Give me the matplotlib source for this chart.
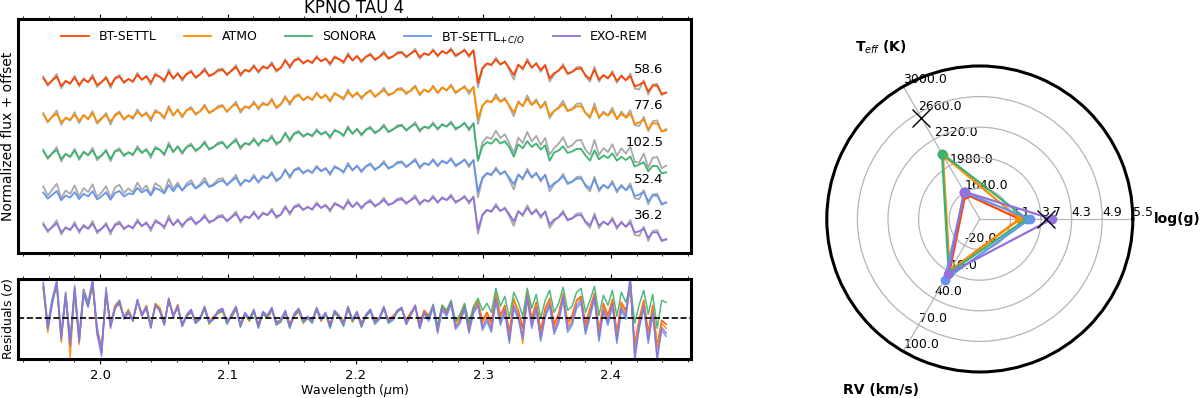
import numpy as np
import matplotlib
matplotlib.use("Agg")
import matplotlib.pyplot as plt
from matplotlib.ticker import MultipleLocator

# ---------------- data ----------------
WL_START, WL_END, N_PIX = 1.9556, 2.4432, 140

MODELS = ["BT-SETTL", "ATMO", "SONORA", r"BT-SETTL$_{+C/O}$", "EXO-REM"]
COLORS = ["#FF4500", "#FF8C00", "#3CB371", "#6495ED", "#9370DB"]
CHI2 = ["58.6", "77.6", "102.5", "52.4", "36.2"]

# observed spectrum (normalised flux x 1000)
OBS = [774, 702, 748, 794, 683, 742, 716, 781, 696, 761,
       729, 789, 693, 727, 775, 685, 765, 786, 722, 757,
       729, 803, 746, 781, 711, 798, 774, 730, 830, 754,
       803, 740, 796, 822, 759, 791, 840, 773, 792, 829,
       836, 782, 822, 862, 776, 827, 809, 864, 801, 856,
       835, 885, 810, 838, 906, 836, 902, 920, 871, 900,
       874, 933, 889, 916, 860, 930, 910, 876, 955, 894,
       936, 881, 929, 952, 897, 925, 969, 908, 926, 961,
       967, 919, 952, 987, 911, 953, 936, 985, 926, 973,
       950, 993, 926, 951, 984, 921, 979, 690, 830, 872,
       857, 920, 864, 893, 823, 750, 867, 825, 911, 838,
       881, 810, 865, 735, 788, 820, 870, 790, 808, 845,
       849, 773, 735, 849, 733, 787, 756, 816, 726, 786,
       744, 797, 681, 675, 745, 635, 712, 718, 631, 652]

MOD_BTSETTL = [761, 714, 744, 773, 701, 739, 722, 765, 710, 752,
               731, 771, 708, 732, 763, 705, 758, 773, 731, 754,
               738, 787, 751, 774, 729, 786, 771, 744, 809, 760,
               795, 755, 792, 810, 769, 791, 824, 781, 794, 819,
               825, 791, 819, 846, 791, 825, 815, 852, 812, 849,
               837, 870, 822, 841, 897, 852, 896, 909, 878, 898,
               881, 921, 892, 910, 875, 921, 908, 887, 939, 900,
               929, 893, 926, 941, 906, 925, 954, 915, 928, 952,
               958, 927, 949, 972, 923, 951, 941, 973, 935, 967,
               952, 981, 937, 954, 976, 936, 974, 725, 840, 875,
               865, 905, 868, 887, 839, 785, 864, 837, 893, 844,
               872, 825, 861, 760, 799, 820, 852, 799, 810, 833,
               836, 784, 755, 828, 751, 784, 762, 800, 740, 777,
               746, 777, 698, 711, 733, 658, 704, 703, 641, 649]

MOD_ATMO = [765, 709, 748, 768, 705, 735, 726, 760, 713, 756,
            727, 775, 704, 736, 759, 709, 754, 776, 727, 758,
            742, 783, 755, 770, 733, 782, 775, 740, 813, 756,
            799, 751, 796, 806, 773, 787, 828, 777, 798, 815,
            829, 787, 823, 842, 795, 821, 819, 848, 816, 845,
            833, 874, 818, 845, 893, 856, 892, 913, 874, 902,
            877, 925, 888, 914, 871, 925, 904, 891, 935, 904,
            925, 897, 922, 945, 902, 929, 950, 919, 924, 956,
            954, 931, 945, 976, 919, 955, 937, 977, 931, 971,
            948, 985, 933, 958, 972, 940, 970, 735, 832, 867,
            857, 897, 860, 879, 831, 780, 856, 829, 885, 836,
            864, 817, 853, 755, 791, 812, 844, 791, 802, 825,
            828, 776, 748, 820, 743, 776, 754, 792, 732, 769,
            738, 769, 690, 703, 725, 650, 696, 695, 633, 641]

MOD_SONORA = [763, 712, 746, 771, 703, 741, 720, 767, 708, 754,
              733, 769, 710, 730, 765, 703, 760, 771, 733, 752,
              740, 785, 753, 772, 731, 784, 773, 742, 811, 758,
              797, 753, 794, 808, 771, 789, 826, 779, 796, 817,
              827, 789, 821, 844, 793, 823, 817, 850, 814, 847,
              839, 868, 824, 839, 899, 850, 898, 907, 880, 896,
              883, 919, 894, 908, 877, 919, 910, 885, 941, 898,
              931, 891, 928, 939, 908, 923, 956, 913, 930, 950,
              960, 925, 951, 970, 925, 949, 943, 971, 937, 965,
              954, 979, 939, 952, 978, 934, 976, 690, 800, 832,
              820, 860, 822, 840, 793, 720, 815, 785, 840, 795,
              822, 775, 808, 690, 752, 768, 800, 750, 760, 780,
              780, 730, 690, 770, 700, 730, 710, 745, 690, 720,
              695, 722, 645, 660, 678, 608, 650, 648, 592, 600]

MOD_BTSETTL_CO = [726, 679, 709, 738, 666, 704, 687, 730, 675, 717,
                  696, 736, 673, 697, 728, 670, 723, 738, 696, 719,
                  713, 762, 726, 749, 704, 761, 746, 719, 784, 735,
                  783, 743, 780, 798, 757, 779, 812, 769, 782, 807,
                  820, 786, 814, 841, 786, 820, 810, 847, 807, 844,
                  837, 870, 822, 841, 897, 852, 896, 909, 878, 898,
                  881, 921, 892, 910, 875, 921, 908, 887, 939, 900,
                  929, 893, 926, 941, 906, 925, 954, 915, 928, 952,
                  958, 927, 949, 972, 923, 951, 941, 973, 935, 967,
                  952, 981, 937, 954, 976, 936, 974, 730, 842, 877,
                  866, 904, 869, 886, 840, 790, 863, 838, 892, 845,
                  871, 826, 860, 765, 798, 819, 851, 800, 809, 832,
                  835, 785, 757, 827, 750, 783, 763, 799, 741, 776,
                  745, 776, 699, 710, 732, 657, 703, 702, 640, 648]

MOD_EXOREM = [758, 716, 741, 771, 703, 736, 724, 762, 712, 749,
              729, 768, 710, 730, 760, 707, 755, 770, 733, 751,
              736, 784, 752, 771, 731, 783, 769, 746, 806, 758,
              793, 757, 790, 807, 771, 789, 821, 783, 792, 816,
              822, 793, 816, 843, 793, 822, 814, 849, 811, 846,
              834, 867, 824, 838, 893, 853, 893, 906, 877, 895,
              879, 918, 890, 907, 876, 918, 906, 888, 935, 898,
              926, 894, 923, 938, 907, 922, 950, 915, 925, 949,
              955, 928, 947, 969, 924, 949, 940, 970, 935, 964,
              950, 978, 937, 952, 973, 937, 971, 722, 838, 874,
              864, 903, 867, 885, 840, 786, 862, 838, 890, 843,
              870, 827, 859, 762, 800, 818, 850, 801, 809, 831,
              834, 785, 757, 825, 753, 782, 763, 798, 742, 775,
              745, 775, 700, 710, 731, 659, 702, 701, 641, 646]

# residuals (sigma)
RES_BTSETTL = [3.0, -0.8, 1.8, 3.2, -1.6, 2.4, -2.2, 2.6, -2.0, 2.8, 1.4, 3.2, -1.0, -3.0, 2.3,
               -0.6, 1.2, 1.4, 0.2, 0.8, -0.1, 1.6, 0.5, 0.9, -0.6, 1.2, 1.0, -0.4, 1.7, 0.4, 1.0,
               -0.5, 0.2, 0.6, -0.2, 0.0, 0.9, -0.4, 0.2, 0.5,
               0.7, -0.2, 0.1, 0.9, -0.5, 0.3, -0.2, 0.6, -0.5, 0.4,
               0.0, 0.8, -0.3, -0.3, 0.5, -0.5, 0.2, 0.7, -0.4, 0.0,
               -0.1, 0.8, -0.2, 0.4, -0.5, 0.5, 0.1, -0.3, 0.9, -0.3,
               0.5, -0.4, 0.2, 0.7, -0.2, 0.0, 0.9, -0.1, 0.2, 0.7,
               0.9, -0.2, 0.6, 1.1, -0.5, 0.8,
               0.3, 1.1, -0.8, 1.3, 0.7, 1.4, -0.4, 0.2, 1.3, -0.7, 1.0, 1.6,
               -0.2, 0.6, -0.4, 2.4, 0.3, 1.3, -1.4, 1.8, 0.8, -1.0, 2.5,
               0.0, 1.6, -1.2, 1.0, 2.0, -0.6, 0.5, 2.4, -0.4, 0.3, 1.8,
               2.2, -0.6, 1.0, 2.5, -1.2, 1.5, 0.3, 1.9, -1.4, 1.6,
               0.8, 3.0, -2.6, 0.0, 1.8, -1.4, 1.3, -2.8, -0.2, -0.6]

RES_ATMO = [3.2, -1.4, 1.7, 3.3, -2.4, 2.6, -3.9, 2.8, -2.6, 2.9, 1.6, 3.4, -1.7, -3.2, 2.5,
            -0.8, 1.3, 1.8, 0.1, 0.9, -0.3, 1.8, 0.4, 1.3, -0.8, 1.5, 1.1, -0.6, 2.0, 0.3, 1.4,
            -0.8, 0.3, 0.8, -0.5, 0.0, 1.1, -0.6, 0.1, 0.6,
            0.9, -0.5, 0.2, 1.1, -0.8, 0.4, -0.3, 0.8, -0.9, 0.5,
            0.1, 1.0, -0.6, -0.4, 0.7, -0.9, 0.3, 0.9, -0.5, 0.1,
            -0.2, 1.0, -0.3, 0.5, -0.9, 0.7, 0.2, -0.5, 1.1, -0.4,
            0.6, -0.6, 0.3, 0.9, -0.5, 0.0, 1.1, -0.4, 0.1, 0.8,
            1.0, -0.6, 0.5, 1.3, -1.0, 0.7,
            0.0, 1.3, -1.2, 1.2, 0.5, 1.7, -0.8, 0.0, 1.3, -1.2, 0.9, 1.8,
            -0.5, 0.4, -0.8, 2.6, 0.0, 1.1, -2.0, 2.0, 0.5, -2.5, 2.6,
            -0.4, 1.4, -1.8, 0.7, 1.9, -1.0, 0.2, 2.5, -0.8, 0.0, 1.7,
            2.0, -1.0, 0.8, 2.4, -1.6, 1.3, -0.1, 1.8, -1.8, 1.5,
            0.5, 3.2, -3.0, -0.3, 1.7, -1.8, 1.2, -3.0, -0.5, -1.0]

RES_SONORA = [3.1, -1.0, 1.6, 3.4, -1.9, 2.2, -2.5, 2.9, -2.2, 2.5, 1.2, 3.5, -1.2, -3.4, 2.6,
              -0.8, 1.0, 1.6, 0.0, 0.6, -0.2, 1.7, 0.3, 1.0, -0.9, 1.3, 0.8, -0.6, 1.8, 0.2, 1.1,
              -0.8, 0.2, 0.7, -0.5, -0.1, 1.0, -0.5, -0.1, 0.6,
              0.8, -0.6, 0.2, 1.0, -0.9, 0.4, -0.2, 0.7, -1.0, 0.5,
              0.1, 0.9, -0.7, -0.3, 0.6, -1.0, 0.3, 0.8, -0.4, 0.0,
              -0.5, 0.9, -0.2, 0.4, -1.0, 0.6, 0.1, -0.8, 1.0, -0.3,
              0.5, -0.9, 0.2, 0.7, -0.6, -0.1, 1.0, -0.5, -0.2, 0.6,
              1.0, -0.6, 0.3, 1.2, -1.0, 0.5,
              0.2, 1.4, -0.8, 1.3, 0.8, 1.8, -0.3, 0.4, 1.5, -0.5, 1.2, 2.0,
              0.8, 1.5, 0.6, 3.0, 1.2, 2.2, 0.0, 2.6, 1.6, 0.2, 3.0,
              1.0, 2.4, 0.0, 1.8, 2.8, 0.6, 1.5, 3.1, 0.8, 1.2, 2.6,
              3.0, 0.6, 1.8, 3.2, 0.3, 2.3, 1.3, 2.8, 0.2, 2.6,
              1.6, 3.4, -0.5, 1.4, 2.8, 0.4, 2.4, -1.0, 1.8, 1.6]

RES_BTSETTL_CO = [3.6, -0.6, 2.0, 3.8, -1.5, 2.6, -2.2, 3.3, -1.8, 2.9, 1.6, 3.9, -0.9, -3.3, 3.1,
                  -0.7, 1.1, 1.8, 0.1, 0.7, -0.2, 1.8, 0.3, 1.2, -0.9, 1.3, 0.8, -0.6, 1.9, 0.2, 1.2,
                  -0.8, 0.3, 0.8, -0.5, 0.0, 1.1, -0.4, -0.1, 0.7,
                  0.9, -0.5, 0.3, 1.1, -0.8, 0.5, -0.1, 0.8, -0.9, 0.6,
                  0.2, 1.0, -0.6, -0.2, 0.7, -0.9, 0.4, 0.9, -0.3, 0.1,
                  -0.4, 1.0, -0.1, 0.5, -0.9, 0.7, 0.2, -0.7, 1.1, -0.2,
                  0.6, -0.8, 0.3, 0.8, -0.5, 0.0, 1.1, -0.4, -0.1, 0.7,
                  1.0, -0.6, 0.3, 1.2, -1.0, 0.5,
                  -0.3, 1.1, -1.5, 0.8, 0.2, 1.4, -1.1, -0.5, 0.9, -1.5, 0.5, 1.2,
                  -1.2, -0.3, -1.4, 1.7, -0.7, 0.6, -2.5, 1.0, -0.1, -2.1, 1.9,
                  -1.0, 0.8, -2.3, 0.1, 1.2, -1.6, -0.5, 1.9, -1.4, -0.7, 1.0,
                  1.5, -1.6, 0.1, 1.9, -2.3, 0.6, -0.7, 1.2, -2.5, 0.8,
                  -0.1, 3.6, -3.6, -1.0, 1.0, -2.5, 0.4, -3.8, -1.2, -1.8]

RES_EXOREM = [3.4, -1.1, 1.4, 3.6, -2.1, 2.1, -2.8, 3.0, -2.4, 2.4, 1.1, 3.7, -1.4, -3.8, 2.7,
              -1.0, 0.9, 1.7, -0.1, 0.5, -0.3, 1.9, 0.2, 1.1, -1.0, 1.4, 0.7, -0.7, 2.0, 0.1, 1.3,
              -0.7, 0.4, 0.9, -0.4, 0.1, 1.2, -0.3, 0.0, 0.8,
              1.0, -0.4, 0.4, 1.2, -0.7, 0.6, 0.0, 0.9, -0.8, 0.7,
              0.3, 1.1, -0.5, -0.1, 0.8, -0.8, 0.5, 1.0, -0.2, 0.2,
              -0.3, 1.1, 0.0, 0.6, -0.8, 0.8, 0.3, -0.6, 1.2, -0.1,
              0.7, -0.7, 0.4, 0.9, -0.4, 0.1, 1.2, -0.3, 0.0, 0.8,
              1.1, -0.5, 0.4, 1.3, -0.9, 0.6,
              -0.1, 1.3, -1.3, 1.0, 0.4, 1.6, -0.9, -0.3, 1.1, -1.3, 0.7, 1.4,
              -0.9, 0.0, -1.1, 2.0, -0.4, 0.9, -2.2, 1.3, 0.2, -1.8, 2.2,
              -0.7, 1.1, -2.0, 0.4, 1.5, -1.3, -0.2, 2.2, -1.1, -0.4, 1.3,
              1.8, -1.3, 0.4, 2.2, -2.0, 0.9, -0.4, 1.5, -2.2, 1.1,
              0.2, 4.5, -4.3, -0.7, 1.3, -2.2, 0.7, -4.2, -0.9, -1.5]

# radar chart data
TEFF_TICKS = [1640.0, 1980.0, 2320.0, 2660.0, 3000.0]
LOGG_TICKS = [3.1, 3.7, 4.3, 4.9, 5.5]
RV_TICKS = [-20.0, 10.0, 40.0, 70.0, 100.0]
TEFF = [1620, 2120, 2140, 1640, 1650]
LOGG = [3.28, 3.28, 3.42, 3.48, 3.92]
RV = [9, 9, 11, 19, 12]
LIT_TEFF = 2600
LIT_LOGG = 3.79

# ---------------- figure ----------------
plt.rcParams['font.family'] = ['DejaVu Sans']
fig = plt.figure(figsize=(12, 3.98), dpi=100)

wl = np.linspace(WL_START, WL_END, N_PIX)
obs = np.array(OBS) / 1000.0
models = [MOD_BTSETTL, MOD_ATMO, MOD_SONORA, MOD_BTSETTL_CO, MOD_EXOREM]
resids = [RES_BTSETTL, RES_ATMO, RES_SONORA, RES_BTSETTL_CO, RES_EXOREM]

ROW_STEP = 0.2815
SPINE_LW = 2.2
XLIM = (1.9358, 2.4626)

ax1 = fig.add_axes([0.015, 0.3643, 0.5608, 0.588])
for k, (name, col, mod) in enumerate(zip(MODELS, COLORS, models)):
    off = -k * ROW_STEP
    ax1.plot(wl, obs + off, color='darkgray', lw=1.3, zorder=2)
    ax1.plot(wl, np.array(mod) / 1000.0 + off, color=col, lw=1.3,
             label=name, zorder=3)
    ax1.text(2.4408, off + 0.83, CHI2[k], ha='right', va='center',
             fontsize=9.5, zorder=4)
ax1.set_xlim(*XLIM)
ax1.set_ylim(-0.5835, 1.2165)
ax1.set_yticks([])
ax1.set_ylabel("Normalized flux + offset", fontsize=10, labelpad=2)
ax1.set_title("KPNO TAU 4", fontsize=12, pad=4)
ax1.legend(loc='upper center', ncol=5, frameon=False, fontsize=9,
           handlelength=2.2, columnspacing=2.2,
           bbox_to_anchor=(0.5, 1.0))
ax1.tick_params(labelbottom=False)

ax2 = fig.add_axes([0.015, 0.098, 0.5608, 0.201])
for col, res in zip(COLORS, resids):
    ax2.plot(wl, res, color=col, lw=1.1, alpha=0.9)
ax2.axhline(0, color='black', ls='--', lw=1.2, zorder=5)
ax2.set_xlim(*XLIM)
ax2.set_ylim(-4.07, 3.93)
ax2.set_yticks([])
ax2.set_ylabel(r"Residuals ($\sigma$)", fontsize=9, labelpad=2)
ax2.set_xlabel(r"Wavelength ($\mu$m)", fontsize=9, labelpad=0.5)

for ax in (ax1, ax2):
    ax.xaxis.set_major_locator(MultipleLocator(0.1))
    ax.xaxis.set_minor_locator(MultipleLocator(0.02))
    ax.tick_params(axis='x', which='both', direction='out', top=True,
                   bottom=True, labelsize=9.5)
    for s in ax.spines.values():
        s.set_linewidth(SPINE_LW)

# ---------------- radar ----------------
pax = fig.add_axes([0.689, 0.0653, 0.255, 0.769], projection='polar')
angles = np.deg2rad([120.0, 0.0, 240.0])


def to_r(v, ticks):
    return 1.0 + (v - ticks[0]) / (ticks[1] - ticks[0])


for k, col in enumerate(COLORS):
    r = [to_r(TEFF[k], TEFF_TICKS), to_r(LOGG[k], LOGG_TICKS),
         to_r(RV[k], RV_TICKS)]
    th = np.append(angles, angles[0])
    rr = np.append(r, r[0])
    pax.plot(th, rr, color=col, lw=1.6, marker='o', ms=6, zorder=3)

pax.plot([angles[0]], [to_r(LIT_TEFF, TEFF_TICKS)], marker='x',
         color='black', ms=13, mew=1.0, ls='none', zorder=4)
pax.plot([angles[1]], [to_r(LIT_LOGG, LOGG_TICKS)], marker='x',
         color='black', ms=13, mew=1.0, ls='none', zorder=4)

pax.set_ylim(0, 5)
pax.set_rgrids([1, 2, 3, 4, 5], labels=[''] * 5)
pax.set_thetagrids([0, 120, 240], labels=['', '', ''])
pax.grid(True, color='#b5b5b5', lw=0.9)
pax.spines['polar'].set_linewidth(SPINE_LW)

for ang, ticks in zip(angles, [TEFF_TICKS, LOGG_TICKS, RV_TICKS]):
    for i, t in enumerate(ticks):
        pax.text(ang, i + 1, f"{t:.1f}", ha='left', va='bottom',
                 fontsize=9, zorder=1)

pax.text(angles[0], 6.47, r"T$_{eff}$ (K)", ha='center', va='center',
         fontsize=10, fontweight='bold', clip_on=False)
pax.text(angles[1], 6.45, "log(g)", ha='center', va='center',
         fontsize=10, fontweight='bold', clip_on=False)
pax.text(angles[2], 6.47, "RV (km/s)", ha='center', va='center',
         fontsize=10, fontweight='bold', clip_on=False)

fig.savefig("out.png", dpi=100)
